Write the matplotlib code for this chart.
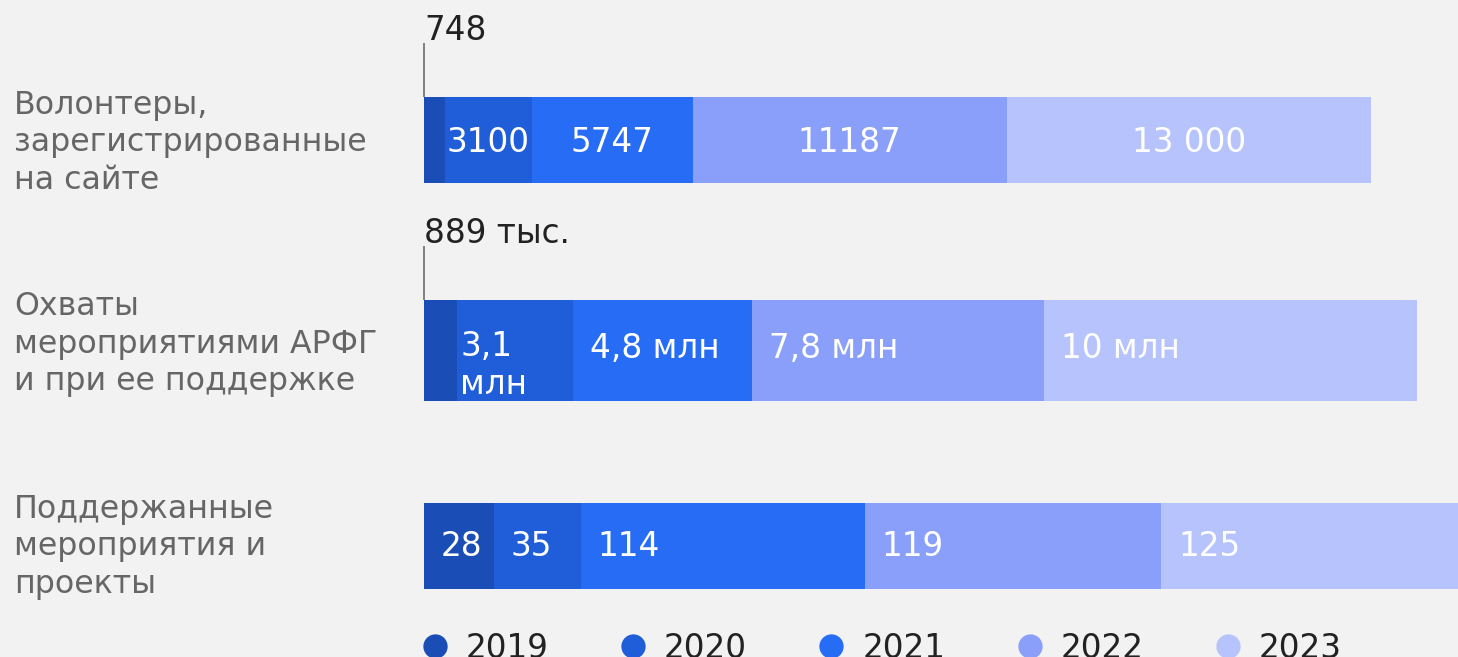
import matplotlib
matplotlib.use("Agg")
import matplotlib.pyplot as plt
from matplotlib.lines import Line2D
from matplotlib.transforms import offset_copy

plt.rcParams['font.family'] = ['DejaVu Sans']

years = ['2019', '2020', '2021', '2022', '2023']
colors = ['#1a4db5', '#1f5ed8', '#276cf5', '#8a9ff9', '#b6c3fc']

categories = ['Волонтеры,\nзарегистрированные\nна сайте',
              'Охваты\nмероприятиями АРФГ\nи при ее поддержке',
              'Поддержанные\nмероприятия и\nпроекты']

volunteers = [748, 3100, 5747, 11187, 13000]
reach_mln = [0.889, 3.1, 4.8, 7.8, 10.0]
events = [28, 35, 114, 119, 125]

volunteers_labels = ['', '3100', '5747', '11187', '13 000']
reach_labels = ['', '3,1\nмлн', '4,8 млн', '7,8 млн', '10 млн']
events_labels = ['28', '35', '114', '119', '125']
top_notes = ['748', '889 тыс.', None]

W, H = 1458, 657
DPI = 100
fig = plt.figure(figsize=(W / DPI, H / DPI), dpi=DPI)
fig.patch.set_facecolor('#f2f2f2')

rows = [
    dict(vals=volunteers, labels=volunteers_labels, top=97, bot=183, xmax=36885,
         mode='center', lab_y=143, dy=-4),
    dict(vals=reach_mln, labels=reach_labels, top=300, bot=401, xmax=27.687,
         mode='left', lab_y=344, dy=-3),
    dict(vals=events, labels=events_labels, top=503, bot=589, xmax=415.3,
         mode='left', lab_y=547, dy=-5),
]

left_px = 424
for i, r in enumerate(rows):
    ax = fig.add_axes([left_px / W, 1 - r['bot'] / H, (W - left_px) / W,
                       (r['bot'] - r['top']) / H])
    ax.set_xlim(0, r['xmax'])
    ax.set_ylim(-0.5, 0.5)
    ax.axis('off')
    ax.patch.set_alpha(0)
    left = 0
    for j, v in enumerate(r['vals']):
        ax.barh(0, v, left=left, height=1.0, color=colors[j], linewidth=0)
        lab = r['labels'][j]
        if lab:
            if r['mode'] == 'center':
                ax.text(left + v / 2, 0.02, lab, ha='center', va='center',
                        color='white', fontsize=23.5,
                        transform=offset_copy(ax.transData, fig=fig,
                                              x=0, y=r['dy'], units='dots'))
            else:
                pad = 3 if '\n' in lab else 17
                yy = -0.12 if '\n' in lab else 0.05
                ax.text(left, yy, lab, ha='left', va='center',
                        color='white', fontsize=23.5, linespacing=1.2,
                        transform=offset_copy(ax.transData, fig=fig,
                                              x=pad, y=r['dy'], units='dots'))
        left += v
    note = top_notes[i]
    if note:
        hpx = r['bot'] - r['top']
        ax.plot([0, 0], [0.5, 0.5 + 54 / hpx], color='#777777', lw=1.3,
                clip_on=False, solid_capstyle='butt')
        ax.text(0, 0.5 + 57 / hpx, note, ha='left', va='baseline',
                color='#222222', fontsize=23.5)
    fig.text(14 / W, 1 - r['lab_y'] / H, categories[i], ha='left', va='center',
             color='#666666', fontsize=22.8, linespacing=1.28)

handles = [Line2D([0], [0], marker='o', linestyle='none', markersize=17.5,
                  markerfacecolor=c, markeredgewidth=0) for c in colors]
leg = fig.legend(handles, years, loc='center left', ncol=5,
                 bbox_to_anchor=(418.7 / W, 1 - 648 / H), frameon=False,
                 fontsize=23.5, handlelength=1.0, handletextpad=0.45,
                 columnspacing=2.08, borderpad=0, borderaxespad=0)
for t in leg.get_texts():
    t.set_color('#222222')

fig.savefig('out.png', dpi=DPI, facecolor=fig.get_facecolor())
